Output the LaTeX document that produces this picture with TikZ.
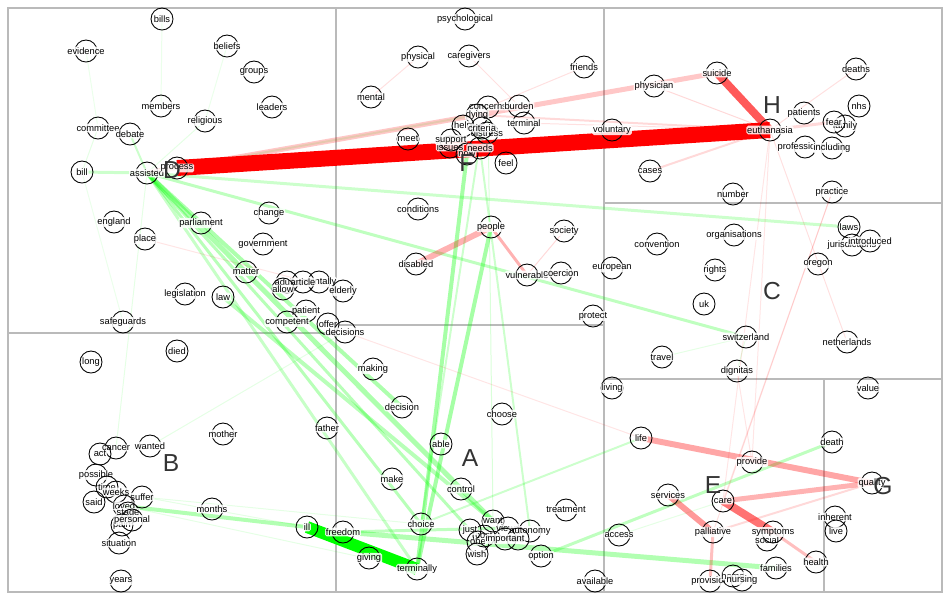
\documentclass[tikz,border=0pt]{standalone}
\usepackage{fontspec}
\setmainfont{Liberation Sans}
\pgfdeclarelayer{edges}
\pgfsetlayers{edges,main}

\begin{document}
\begin{tikzpicture}[x=0.02cm, y=-0.02cm,
	word/.style={circle, draw=black, line width=0.5pt, minimum size=0.44cm, inner sep=0pt},
	tag/.style={fill=white, fill opacity=0.85, text opacity=1, inner sep=0.5pt, rounded corners=1pt, font=\fontsize{5.3}{6}\selectfont},
	grouplabel/.style={text=black!80, font=\fontsize{14}{16}\selectfont},
	redlink/.style n args={2}{draw=red, line width=#1*0.567pt, draw opacity=#2},
	greenlink/.style n args={2}{draw=green, line width=#1*0.567pt, draw opacity=#2},
	panel/.style={draw=black!27, line width=0.6pt}]
	\useasboundingbox (0,0) rectangle (950,600);

	% words, panel by panel
	\foreach \w/\x/\y in {bills/162/19, evidence/86/51, beliefs/227/46, groups/254/72,
		members/161/106, leaders/272/107, religious/205/121, committee/98/128,
		debate/130/134, bill/82/172, assisted/147/173, process/177/168,
		england/114/222, place/145/239, parliament/201/223, change/269/213,
		government/263/244, matter/246/272, legislation/185/294, law/223/297,
		adults/287/282, mentally/319/282, article/303/282, allow/283/289,
		elderly/343/291, patient/306/311, competent/287/322, offer/328/324,
		decisions/345/332, safeguards/123/322}
		\node[word, label={[tag]center:\w}] (\w) at (\x,\y) {};
	\foreach \w/\x/\y in {psychological/465/19, physical/418/57, caregivers/469/56,
		friends/584/67, mental/371/97, concerns/488/107, burden/519/106,
		terminal/524/123, dying/477/115, help/463/126, distress/487/133,
		criteria/482/128, meet/408/139, issues/450/147, support/451/140,
		now/467/154, needs/480/148, feel/506/163, voluntary/612/130,
		conditions/418/209, people/491/227, society/564/231, disabled/416/264,
		vulnerable/527/275, coercion/561/273, european/612/268, protect/593/316}
		\node[word, label={[tag]center:\w}] (\w) at (\x,\y) {};
	\foreach \w/\x/\y in {physician/654/86, suicide/717/73, deaths/856/69, nhs/859/106,
		patients/804/113, euthanasia/770/130, family/845/126, fear/834/122,
		professionals/805/147, including/832/148, cases/650/171, number/733/194,
		practice/832/192, organisations/734/235, convention/657/244, laws/849/227,
		jurisdictions/852/245, introduced/870/241, oregon/818/264, rights/715/270,
		uk/704/304, switzerland/746/337, netherlands/847/342, travel/662/357,
		dignitas/737/371, living/612/388}
		\node[word, label={[tag]center:\w}] (\w) at (\x,\y) {};
	\foreach \w/\x/\y in {long/91/362, died/177/351, mother/223/434, father/327/428,
		cancer/116/448, act/100/454, wanted/150/446, possible/96/475, time/107/487,
		weeks/116/492, said/94/502, suffer/142/497, loved/124/506, stage/128/513,
		pain/122/525, personal/132/520, situation/119/543, years/121/581,
		months/212/509, ill/307/527}
		\node[word, label={[tag]center:\w}] (\w) at (\x,\y) {};
	\foreach \w/\x/\y in {freedom/343/532, making/373/369, decision/402/407,
		choose/502/414, able/441/444, make/392/479, control/461/489,
		treatment/566/510, choice/421/524, cost/484/536, just/470/530, want/493/521,
		views/508/528, autonomy/530/531, die/518/539, one/478/542,
		important/505/539, wish/477/554, option/541/556, giving/369/558,
		terminally/417/569, available/595/581}
		\node[word, label={[tag]center:\w}] (\w) at (\x,\y) {};
	\foreach \w/\x/\y in {value/868/388, life/641/438, death/832/442, provide/752/462,
		quality/872/483, services/668/495, care/723/501, inherent/835/517,
		live/836/531, access/619/535, palliative/713/532, social/767/540,
		symptoms/773/532, health/816/562, families/776/568, provision/710/581,
		home/733/576, nursing/742/580}
		\node[word, label={[tag]center:\w}] (\w) at (\x,\y) {};

	% cluster letters
	\node[grouplabel] (grpD) at (172,170) {D};
	\node[grouplabel] (grpF) at (467,163) {F};
	\node[grouplabel] (grpH) at (772,105) {H};
	\node[grouplabel] (grpC) at (772,291) {C};
	\node[grouplabel] (grpB) at (171,463) {B};
	\node[grouplabel] (grpA) at (470,458) {A};
	\node[grouplabel] (grpE) at (713,485) {E};
	\node[grouplabel] (grpG) at (883,486) {G};

	\begin{pgfonlayer}{edges}
		\fill[white] (0,0) rectangle (950,600);
		% panels
		\draw[panel] (8,8) rectangle (942,592);
		\draw[panel] (336,8) -- (336,592);
		\draw[panel] (604,8) -- (604,592);
		\draw[panel] (8,333) -- (336,333);
		\draw[panel] (336,325) -- (604,325);
		\draw[panel] (604,203) -- (942,203);
		\draw[panel] (604,379) -- (942,379);
		\draw[panel] (824,379) -- (824,592);
		% green links
		\foreach \a/\b/\lw/\op in {assisted/want/5/0.32, assisted/decision/4/0.32,
			assisted/choice/3/0.28, assisted/terminally/3/0.22, assisted/just/3/0.28,
			law/want/4/0.28, assisted/bill/3/0.2, assisted/debate/2/0.2,
			assisted/laws/3/0.2, assisted/switzerland/3/0.25, assisted/religious/1/0.1,
			assisted/dying/2/0.12, assisted/cancer/1/0.1, now/terminally/4/0.35,
			people/terminally/4/0.35, loved/ill/4/0.3, freedom/views/3/0.25,
			freedom/families/5/0.3, option/death/3/0.25, life/choice/2/0.2,
			needs/autonomy/2/0.2, concerns/want/1/0.15, criteria/choice/2/0.2,
			committee/bill/1/0.1, evidence/committee/1/0.08, bills/members/1/0.08,
			beliefs/religious/1/0.08, safeguards/bill/1/0.08, travel/switzerland/1/0.1,
			switzerland/dignitas/1/0.1, access/care/1/0.1, loved/terminally/1/0.1,
			weeks/ill/1/0.1, suffer/choice/1/0.1, wanted/decisions/1/0.1,
			ill/terminally/12/1}
			\draw[greenlink={\lw}{\op}] (\a.center) -- (\b.center);
		% red links
		\foreach \a/\b/\lw/\op in {assisted/suicide/5/0.22, disabled/people/6/0.3,
			people/vulnerable/3/0.3, vulnerable/society/1/0.15, vulnerable/coercion/1/0.1,
			life/quality/6/0.35, care/quality/5/0.3, services/palliative/6/0.4,
			palliative/provision/3/0.25, symptoms/health/3/0.25, palliative/quality/2/0.15,
			euthanasia/fear/3/0.15, euthanasia/cases/2/0.15, euthanasia/physician/1/0.15,
			euthanasia/deaths/1/0.12, euthanasia/care/1/0.1, euthanasia/provide/1/0.1,
			euthanasia/netherlands/1/0.12, euthanasia/dying/2/0.15, euthanasia/terminal/1/0.12,
			practice/palliative/1/0.12, practice/care/1/0.1, physical/mental/1/0.12,
			caregivers/burden/1/0.12, friends/concerns/1/0.12, place/elderly/1/0.1,
			decisions/life/1/0.1, provide/dignitas/1/0.1,
			care/symptoms/8/0.55, suicide/euthanasia/8/0.65, process/euthanasia/16/1}
			\draw[redlink={\lw}{\op}] (\a.center) -- (\b.center);
	\end{pgfonlayer}
\end{tikzpicture}
\end{document}
